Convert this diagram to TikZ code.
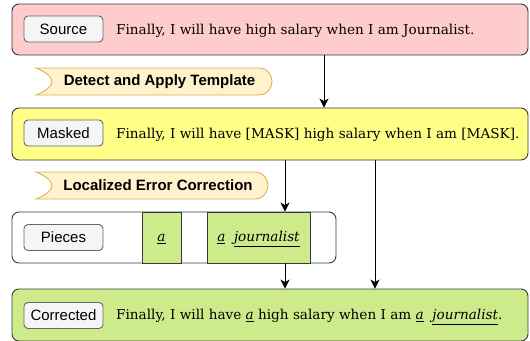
\documentclass[tikz,border=0pt]{standalone}
\usepackage{fontspec}
\setmainfont{DejaVu Serif}
\setsansfont{Liberation Sans}
\usepackage{tikz}
\usetikzlibrary{arrows.meta}
\definecolor{edge}{HTML}{36393D}
\definecolor{srcred}{HTML}{FFCCCC}
\definecolor{maskyellow}{HTML}{FFFF88}
\definecolor{fixgreen}{HTML}{CDEB8B}
\definecolor{tagfill}{HTML}{F5F5F5}
\definecolor{tagedge}{HTML}{666666}
\definecolor{notefill}{HTML}{FFF2CC}
\definecolor{noteedge}{HTML}{D6B656}
\tikzset{
  row/.style={draw=edge, line width=0.9pt, rounded corners=7pt, minimum width=516pt, minimum height=52pt, inner sep=0pt},
  tag/.style={draw=tagedge, fill=tagfill, line width=0.9pt, rounded corners=4pt, minimum width=79pt, minimum height=26pt, inner sep=0pt, font=\sffamily\fontsize{15}{17}\selectfont},
  sent/.style={anchor=base west, inner sep=0pt, font=\fontsize{13.6}{16}\selectfont},
  cell/.style={draw=edge, fill=fixgreen, line width=0.9pt, minimum height=51pt, inner sep=0pt, text height=11.4pt, text depth=3pt, font=\fontsize{13.6}{16}\selectfont},
  note/.style={draw=noteedge, fill=notefill, line width=0.9pt},
  notetext/.style={font=\sffamily\bfseries\fontsize{15}{17}\selectfont},
  arr/.style={draw=black, line width=0.9pt, -{Stealth[length=9pt, width=9pt, inset=2.5pt]}}
}
\newcommand{\fixword}[1]{\underline{\textit{#1}}}
\begin{document}
\begin{tikzpicture}[x=1pt, y=-1pt]
  \useasboundingbox (0,0) rectangle (530,340);

  \node[row, fill=srcred, minimum height=51pt] (src) at (270,29.5) {};
  \node[row, fill=maskyellow] (mask) at (270,134) {};
  \node[row, fill=white, minimum width=324pt, minimum height=51pt] (pcs) at (174,237.5) {};
  \node[row, fill=fixgreen] (fix) at (270,315) {};

  \node[cell, minimum width=39pt] (pa) at (161.5,237.5) {\fixword{a}};
  \node[cell, minimum width=103pt] (paj) at (258.5,237.5) {\fixword{a}\ \ \fixword{journalist}};

  \node[tag] (srctag) at (63.5,29) {Source};
  \node[tag] (masktag) at (63.5,133) {Masked};
  \node[tag] (pcstag) at (63.5,237.5) {Pieces};
  \node[tag] (fixtag) at (63.5,315.5) {Corrected};

  \node[sent] (srctext) at (116,34) {Finally, I will have high salary when I am Journalist.};
  \node[sent] (masktext) at (116,138.3) {Finally, I will have [MASK] high salary when I am [MASK].};
  \node[sent] (fixtext) at (116,319.3) {Finally, I will have \fixword{a} high salary when I am \fixword{a}\ \ \fixword{journalist}.};

  \draw[note] (36,68) -- (260,68) .. controls (267,68) and (272,75) .. (272,81.5)
    .. controls (272,88) and (267,95) .. (260,95) -- (36,95)
    .. controls (46,91) and (52,86) .. (52,81.5) .. controls (52,77) and (46,72) .. cycle;
  \node[notetext] (detect) at (159.5,81.5) {Detect and Apply Template};

  \draw[note] (36,172) -- (256,172) .. controls (263,172) and (268,179) .. (268,185.5)
    .. controls (268,192) and (263,199) .. (256,199) -- (36,199)
    .. controls (46,195) and (52,190) .. (52,185.5) .. controls (52,181) and (46,176) .. cycle;
  \node[notetext] (localize) at (158,185.5) {Localized Error Correction};

  \coordinate (lane1) at (324,0);
  \coordinate (lane2) at (285,0);
  \coordinate (lane3) at (375,0);
  \draw[arr] (src.south -| lane1) -- (mask.north -| lane1);
  \draw[arr] (mask.south -| lane2) -- (pcs.north -| lane2);
  \draw[arr] (mask.south -| lane3) -- (fix.north -| lane3);
  \draw[arr] (pcs.south -| lane2) -- (fix.north -| lane2);
\end{tikzpicture}
\end{document}
